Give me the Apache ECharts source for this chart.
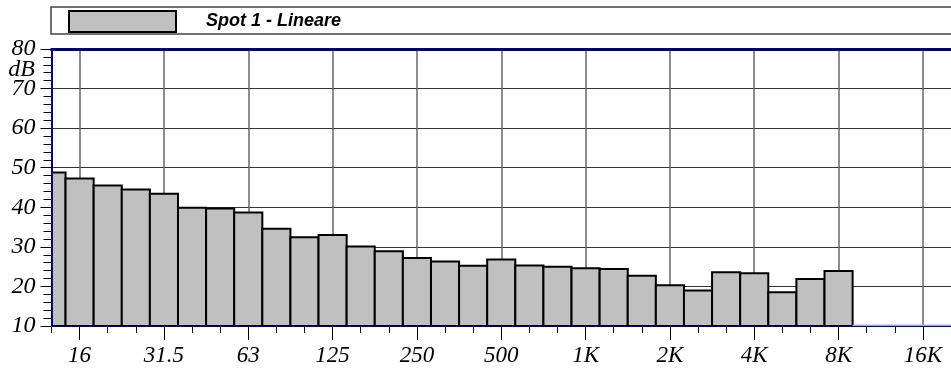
<!DOCTYPE html>
<html>
<head>
<meta charset="utf-8">
<script src="https://cdn.jsdelivr.net/npm/echarts@6/dist/echarts.min.js"></script>
<style>
html,body{margin:0;padding:0;background:#fff;}
#chart{width:951px;height:371px;}
</style>
</head>
<body>
<div id="chart"></div>
<script>
// 1/3-octave bands
var bands = ['12.5','16','20','25','31.5','40','50','63','80','100','125','160','200','250','315','400','500','630','800','1K','1.25K','1.6K','2K','2.5K','3.15K','4K','5K','6.3K','8K','10K','12.5K','16K','20K'];
// levels in dB (bands at the 10 dB floor drawn as empty)
var levels = [48.8,47.3,45.5,44.5,43.4,39.9,39.7,38.7,34.6,32.4,33.0,30.1,28.9,27.2,26.3,25.2,26.8,25.3,25.0,24.6,24.4,22.7,20.3,19.0,23.6,23.3,18.5,21.9,23.9,10,10,10,10];
var seriesName = 'Spot 1 - Lineare';
var yMin = 10, yMax = 80, yStep = 10;
var floorValue = 10;

var serif = '"Liberation Serif","Times New Roman",serif';
var sans = '"Liberation Sans",Arial,sans-serif';
function isMajor(i){ return i % 3 === 1; }

var seriesData = levels.map(function(v, i){ return [i, v]; });

function renderBar(params, api) {
  var i = api.value(0), v = api.value(1);
  var top = api.coord([i, v]);
  var base = api.coord([i, floorValue]);
  var w = api.size([1, 0])[0];
  var cs = params.coordSys;
  var area = {x: cs.x, y: cs.y, width: cs.width, height: cs.height};
  if (v <= floorValue) {
    var x1 = Math.max(top[0] - w / 2, cs.x), x2 = Math.min(top[0] + w / 2, cs.x + cs.width);
    return {
      type: 'line',
      shape: {x1: x1, y1: base[1], x2: x2, y2: base[1]},
      style: {stroke: '#a8a8d8', lineWidth: 3},
      z2: 5
    };
  }
  var rect = echarts.graphic.clipRectByRect(
    {x: top[0] - w / 2, y: top[1], width: w, height: base[1] - top[1]}, area);
  if (!rect) return null;
  return {
    type: 'rect',
    shape: rect,
    style: {fill: '#c0c0c0', stroke: '#000', lineWidth: 2}
  };
}

var chart = echarts.init(document.getElementById('chart'), null, {renderer:'canvas'});
chart.setOption({
  animation: false,
  backgroundColor: '#fff',
  grid: {left: 51.5, top: 49, width: 905, height: 277, containLabel: false},
  legend: {
    left: 68, top: 10, padding: 0,
    itemWidth: 107, itemHeight: 21,
    icon: 'rect',
    itemStyle: {color: '#c0c0c0', borderColor: '#000', borderWidth: 2},
    formatter: function(n){ return '{p|}{t|' + n + '}'; },
    textStyle: {
      rich: {
        p: {width: 25},
        t: {fontFamily: sans, fontStyle: 'italic', fontWeight: 'bold', fontSize: 18, color: '#000'}
      }
    },
    data: [seriesName]
  },
  graphic: [
    {type: 'rect', shape: {x: 51, y: 7, width: 920, height: 27}, style: {fill: 'none', stroke: '#444', lineWidth: 1.5}, silent: true, z: -1},
    {type: 'text', x: 35, y: 70, style: {text: 'dB', font: 'italic 24px ' + serif, fill: '#000', align: 'right', verticalAlign: 'middle'}, silent: true}
  ],
  xAxis: [
    {
      type: 'category', data: bands, boundaryGap: false, position: 'bottom',
      axisLine: {show: true, lineStyle: {color: '#000080', width: 1}},
      axisTick: {show: true, interval: 0, length: 7, lineStyle: {color: '#000', width: 1}},
      axisLabel: {show: false},
      splitLine: {show: true, interval: function(i){ return isMajor(i); }, lineStyle: {color: '#666', width: 1.5}}
    },
    {
      type: 'category', data: bands, boundaryGap: false, position: 'bottom', z: 10,
      axisLine: {show: true, lineStyle: {color: '#000080', width: 1}},
      axisTick: {show: true, interval: function(i){ return isMajor(i); }, length: 14, lineStyle: {color: '#000', width: 1}},
      axisLabel: {show: true, interval: function(i){ return isMajor(i); }, margin: 18,
        fontFamily: serif, fontStyle: 'italic', fontSize: 23, color: '#000'},
      splitLine: {show: false}
    },
    {
      type: 'category', data: bands, boundaryGap: false, position: 'top', z: 10,
      axisLine: {show: true, lineStyle: {color: '#000080', width: 3}},
      axisTick: {show: false}, axisLabel: {show: false}, splitLine: {show: false}
    }
  ],
  yAxis: [
    {
      type: 'value', min: yMin, max: yMax, interval: yStep,
      axisLine: {show: true, lineStyle: {color: '#000080', width: 2}},
      axisTick: {show: true, length: 11, lineStyle: {color: '#000', width: 1}},
      minorTick: {show: true, splitNumber: 5, length: 8, lineStyle: {color: '#000', width: 1}},
      axisLabel: {show: true, margin: 16, fontFamily: serif, fontStyle: 'italic', fontSize: 24, color: '#000'},
      splitLine: {show: true, lineStyle: {color: '#333', width: 1.2}}
    },
    {
      type: 'value', min: yMin, max: yMax, interval: yStep, position: 'left', z: 10,
      axisLine: {show: true, lineStyle: {color: '#000080', width: 2}},
      axisTick: {show: false}, axisLabel: {show: false}, splitLine: {show: false}
    }
  ],
  series: [{
    name: seriesName,
    type: 'custom',
    xAxisIndex: 0, yAxisIndex: 0,
    clip: true,
    itemStyle: {color: '#c0c0c0', borderColor: '#000', borderWidth: 2},
    renderItem: renderBar,
    encode: {x: 0, y: 1},
    data: seriesData
  }]
});
</script>
</body>
</html>
